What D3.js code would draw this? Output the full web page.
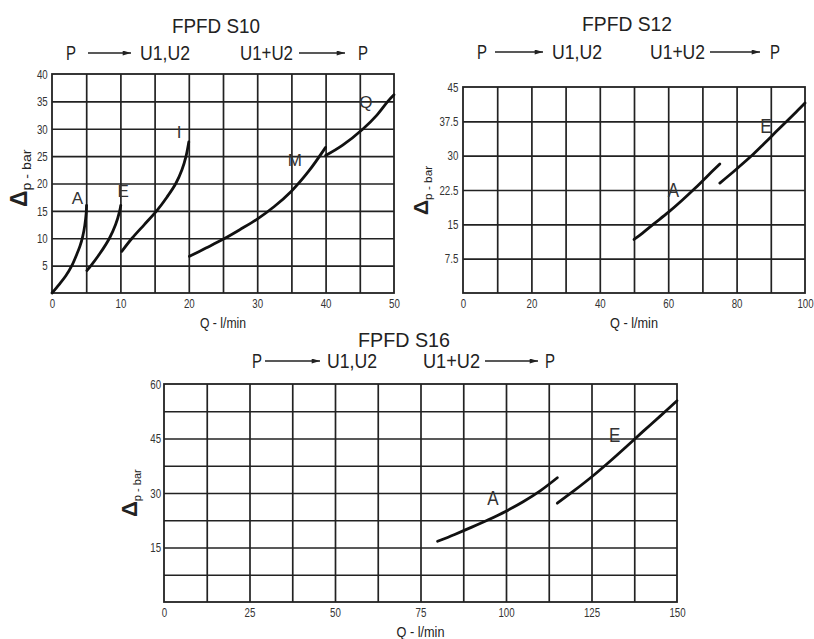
<!DOCTYPE html>
<html>
<head>
<meta charset="utf-8">
<script src="https://cdn.jsdelivr.net/npm/d3@7"></script>
<style>
    body { margin: 0; background: #fff; }
    svg { display: block; font-family: "Liberation Sans", Arial, sans-serif; }
</style>
</head>
<body>
<svg id="chart" width="814" height="639"></svg>
<script>
// ---- FPFD S10 ----
var s10Title = "FPFD S10";
var s10XTicks = [0, 10, 20, 30, 40, 50];
var s10YTicks = [5, 10, 15, 20, 25, 30, 35, 40];
var s10XGrid = [5, 10, 15, 20, 25, 30, 35, 40, 45];
var s10YGrid = [5, 10, 15, 20, 25, 30, 35];
var s10Names = ["A", "E", "I", "M", "Q"];
var s10A = [[0, 0], [1, 1.5], [2, 3.1], [2.9, 5], [3.6, 7], [4.1, 8.6], [4.5, 10.4], [4.8, 12.4], [5, 14.6], [5.05, 16]];
var s10E = [[5.1, 4.1], [5.7, 5], [7, 7.2], [8.4, 10], [9.3, 12.5], [9.9, 15], [10.05, 16]];
var s10I = [[10.2, 7.6], [11.7, 10], [13.5, 12.5], [15.3, 15], [16.8, 17.5], [18.1, 20], [19, 22.5], [19.6, 25], [20, 27.6]];
var s10M = [[20.1, 6.7], [22.5, 8.2], [25, 9.8], [27.5, 11.6], [30, 13.5], [32.5, 15.8], [35, 18.6], [37.5, 22.2], [40, 26.6]];
var s10Q = [[40, 25.1], [42.5, 27], [45.5, 30], [47.5, 32.5], [49.1, 35], [50, 36.2]];
var s10LabelAt = [[3.7, 16.3], [10.4, 17.5], [18.6, 28.3], [35.5, 23.2], [45.9, 33.8]];

// ---- FPFD S12 ----
var s12Title = "FPFD S12";
var s12XTicks = [0, 20, 40, 60, 80, 100];
var s12YTicks = [7.5, 15, 22.5, 30, 37.5, 45];
var s12XGrid = [10, 20, 30, 40, 50, 60, 70, 80, 90];
var s12YGrid = [7.5, 15, 22.5, 30, 37.5];
var s12Names = ["A", "E"];
var s12A = [[50, 11.7], [52.5, 13.1], [55.6, 15], [60, 17.6], [64, 20.2], [67.6, 22.7], [71, 25.2], [75.1, 28.2]];
var s12E = [[75.1, 24], [77.5, 25.5], [80, 27.1], [84.7, 30.2], [88, 32.6], [91.5, 35.2], [94.9, 37.7], [97.5, 39.6], [100, 41.5]];
var s12LabelAt = [[61.5, 21.0], [88.6, 34.9]];

// ---- FPFD S16 ----
var s16Title = "FPFD S16";
var s16XTicks = [0, 25, 50, 75, 100, 125, 150];
var s16YTicks = [15, 30, 45, 60];
var s16XGrid = [12.5, 25, 37.5, 50, 62.5, 75, 87.5, 100, 112.5, 125, 137.5];
var s16YGrid = [7.5, 15, 22.5, 30, 37.5, 45, 52.5];
var s16Names = ["A", "E"];
var s16A = [[80, 16.7], [85, 18.6], [90, 20.6], [95, 22.7], [100, 25], [105, 27.6], [110, 30.6], [115, 34.2]];
var s16E = [[115, 27.2], [120, 30.7], [125, 34.4], [130, 38.4], [135, 42.6], [140, 46.9], [145, 51.1], [150, 55.4]];
var s16LabelAt = [[96.2, 26.7], [131.8, 44.0]];

var subLeft = "U1,U2";
var subRight = "U1+U2";
var xTitle = "Q - l/min";
var yTitle = "p - bar";

var svg = d3.select("#chart");

// arrow head used in the "P --> U1,U2" lines
svg.append("defs").append("marker")
    .attr("id", "head")
    .attr("viewBox", "0 0 10 6")
    .attr("refX", 10).attr("refY", 3)
    .attr("markerWidth", 11).attr("markerHeight", 5)
    .attr("markerUnits", "userSpaceOnUse")
    .attr("orient", "auto")
    .append("path")
    .attr("d", "M0,0 L10,3 L0,6 Z")
    .attr("fill", "#222");

function label(g, str, x, y, size, len) {
    var t = g.append("text")
        .attr("x", x).attr("y", y)
        .attr("font-size", size)
        .attr("fill", "#222")
        .text(str);
    if (len) t.attr("textLength", len).attr("lengthAdjust", "spacingAndGlyphs");
    return t;
}

function drawChart(c) {
    var g = svg.append("g");
    var x = d3.scaleLinear().domain(c.xDomain).range([c.left, c.right]);
    var y = d3.scaleLinear().domain(c.yDomain).range([c.bottom, c.top]);
    var h = c.bottom - c.top;
    var w = c.right - c.left;

    // grid
    g.append("g")
        .attr("transform", "translate(0," + c.bottom + ")")
        .call(d3.axisBottom(x).tickValues(c.xGrid).tickSize(-h).tickFormat(""))
        .call(function (s) { s.select(".domain").remove(); })
        .selectAll("line").attr("stroke", "#222").attr("stroke-width", 1.7);
    g.append("g")
        .attr("transform", "translate(" + c.left + ",0)")
        .call(d3.axisLeft(y).tickValues(c.yGrid).tickSize(-w).tickFormat(""))
        .call(function (s) { s.select(".domain").remove(); })
        .selectAll("line").attr("stroke", "#222").attr("stroke-width", 1.7);
    g.append("rect")
        .attr("x", c.left).attr("y", c.top)
        .attr("width", w).attr("height", h)
        .attr("fill", "none").attr("stroke", "#222").attr("stroke-width", 1.8);

    // tick labels (narrow digits)
    var xa = g.append("g")
        .attr("transform", "translate(0," + c.bottom + ")")
        .call(d3.axisBottom(x).tickValues(c.xTicks).tickSize(0).tickPadding(5.4).tickFormat(String));
    xa.select(".domain").remove();
    xa.selectAll("text")
        .attr("font-size", 13.5).attr("font-family", "Liberation Sans, Arial, sans-serif")
        .attr("fill", "#333").attr("transform", "scale(0.72,1)");
    var ya = g.append("g")
        .attr("transform", "translate(" + c.left + ",0)")
        .call(d3.axisLeft(y).tickValues(c.yTicks).tickSize(0).tickPadding(c.yPad).tickFormat(String));
    ya.select(".domain").remove();
    ya.selectAll("text")
        .attr("font-size", 13.5).attr("font-family", "Liberation Sans, Arial, sans-serif")
        .attr("fill", "#333").attr("transform", "scale(0.72,1)");

    // curves
    var line = d3.line()
        .x(function (d) { return x(d[0]); })
        .y(function (d) { return y(d[1]); })
        .curve(d3.curveCatmullRom.alpha(0.5));
    g.selectAll("path.curve")
        .data(c.curves)
        .enter()
        .append("path")
        .attr("class", "curve")
        .attr("d", line)
        .attr("fill", "none")
        .attr("stroke", "#111")
        .attr("stroke-width", 2.8)
        .attr("stroke-linecap", "round");

    // curve names
    g.selectAll("text.name")
        .data(c.names)
        .enter()
        .append("text")
        .attr("class", "name")
        .attr("text-anchor", "middle")
        .attr("font-size", c.nameSize)
        .attr("fill", "#333")
        .attr("transform", function (d, i) {
            return "translate(" + x(c.labelAt[i][0]) + "," + y(c.labelAt[i][1]) + ") scale(" + c.nameScale + ",1)";
        })
        .text(function (d) { return d; });

    // titles
    label(g, c.title, c.titleX, c.titleY, c.titleSize, c.titleLen).attr("text-anchor", "middle");
    var s = c.sub;
    label(g, "P", s[0], c.subY, c.subSize, c.pLen);
    g.append("line").attr("x1", s[1]).attr("x2", s[2]).attr("y1", c.subY - 7).attr("y2", c.subY - 7)
        .attr("stroke", "#222").attr("stroke-width", 1.3).attr("marker-end", "url(#head)");
    label(g, subLeft, s[3], c.subY, c.subSize, c.u12Len);
    label(g, subRight, s[4], c.subY, c.subSize, c.u12pLen);
    g.append("line").attr("x1", s[5]).attr("x2", s[6]).attr("y1", c.subY - 7).attr("y2", c.subY - 7)
        .attr("stroke", "#222").attr("stroke-width", 1.3).attr("marker-end", "url(#head)");
    label(g, "P", s[7], c.subY, c.subSize, c.pLen);

    // axis titles
    label(g, xTitle, (c.left + c.right) / 2, c.xTitleY, c.xTitleSize, c.xTitleLen).attr("text-anchor", "middle");
    var yl = g.append("text")
        .attr("transform", "translate(" + c.yTitle[0] + "," + c.yTitle[1] + ") rotate(-90)")
        .attr("fill", "#222");
    yl.append("tspan").attr("font-size", c.deltaSize).attr("font-weight", "bold").text("\u0394");
    yl.append("tspan").attr("font-size", c.yTitleSize).attr("dy", 4)
        .attr("textLength", c.yTitleLen).attr("lengthAdjust", "spacingAndGlyphs").text(yTitle);
}

drawChart({
    left: 52, right: 394, top: 74, bottom: 293,
    xDomain: [0, 50], yDomain: [0, 40],
    xTicks: s10XTicks, yTicks: s10YTicks, xGrid: s10XGrid, yGrid: s10YGrid, yPad: 6,
    curves: [s10A, s10E, s10I, s10M, s10Q], names: s10Names, labelAt: s10LabelAt,
    nameSize: 17, nameScale: 1,
    title: s10Title, titleX: 216, titleY: 33, titleSize: 21, titleLen: 88,
    sub: [66, 88, 131, 140, 240, 299, 345, 358], subY: 60, subSize: 20, pLen: 10, u12Len: 50, u12pLen: 53,
    xTitleY: 328, xTitleSize: 14, xTitleLen: 46,
    yTitle: [27, 207], deltaSize: 23, yTitleSize: 12, yTitleLen: 41
});

drawChart({
    left: 463, right: 805, top: 87, bottom: 293,
    xDomain: [0, 100], yDomain: [0, 45],
    xTicks: s12XTicks, yTicks: s12YTicks, xGrid: s12XGrid, yGrid: s12YGrid, yPad: 6.5,
    curves: [s12A, s12E], names: s12Names, labelAt: s12LabelAt,
    nameSize: 20, nameScale: 0.85,
    title: s12Title, titleX: 627, titleY: 31, titleSize: 21, titleLen: 90,
    sub: [477, 495, 543, 552, 650, 710, 760, 770], subY: 59, subSize: 20, pLen: 10, u12Len: 50, u12pLen: 55,
    xTitleY: 328, xTitleSize: 14, xTitleLen: 48,
    yTitle: [428, 215], deltaSize: 21, yTitleSize: 11, yTitleLen: 34
});

drawChart({
    left: 164, right: 677, top: 384, bottom: 602,
    xDomain: [0, 150], yDomain: [0, 60],
    xTicks: s16XTicks, yTicks: s16YTicks, xGrid: s16XGrid, yGrid: s16YGrid, yPad: 4,
    curves: [s16A, s16E], names: s16Names, labelAt: s16LabelAt,
    nameSize: 20, nameScale: 0.85,
    title: s16Title, titleX: 404, titleY: 347, titleSize: 21, titleLen: 92,
    sub: [252, 265, 320, 327, 423, 485, 538, 545], subY: 368, subSize: 20, pLen: 10, u12Len: 50, u12pLen: 57,
    xTitleY: 637, xTitleSize: 14, xTitleLen: 48,
    yTitle: [137, 517], deltaSize: 22, yTitleSize: 11, yTitleLen: 32
});
</script>
</body>
</html>
